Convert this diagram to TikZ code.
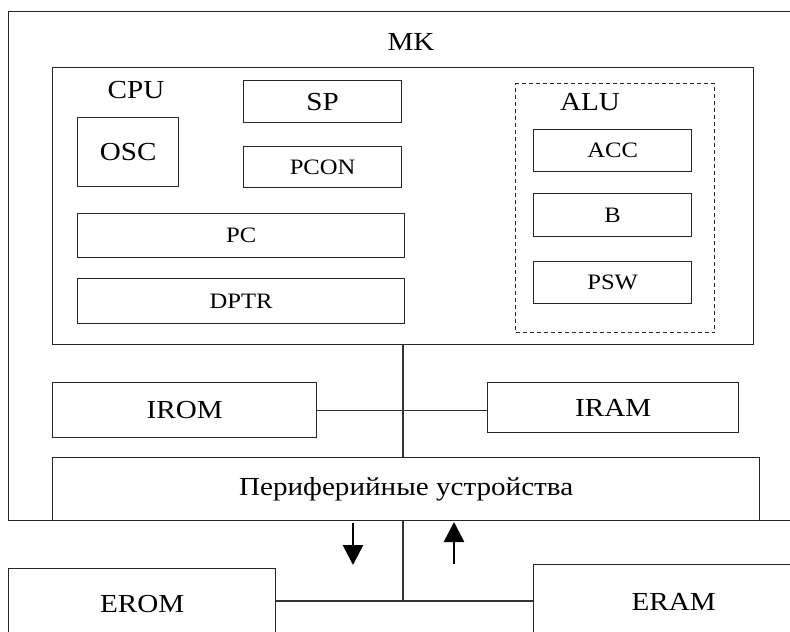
\documentclass[tikz,border=0pt]{standalone}
\usepackage{fontspec}
\setmainfont{Liberation Serif}[FakeStretch=1.12]
\usetikzlibrary{arrows.meta}
\tikzset{
  blk/.style={draw=black!85, line width=1.3pt, fill=white, inner sep=0pt, anchor=north west},
  dashblk/.style={draw=black!85, line width=1.2pt, dash pattern=on 4pt off 3pt, inner sep=0pt, anchor=north west},
  big/.style={font=\fontsize{26}{28}\selectfont},
  small/.style={font=\fontsize{22}{25}\selectfont},
  wire/.style={draw=black!80, line width=1.2pt},
  flow/.style={line width=2.6pt, -{Triangle[length=20pt,width=20pt]}},
}
\begin{document}
\begin{tikzpicture}[x=1pt,y=-1pt]
\useasboundingbox (0,0) rectangle (790,632);
\fill[white] (0,0) rectangle (790,632);
\clip (0,0) rectangle (790,632);

% microcontroller outline
\node[blk, minimum width=800pt, minimum height=509pt] (mk) at (8,11) {};
\node[big] (mklabel) at (411,42) {MK};

% processor core
\node[blk, minimum width=701pt, minimum height=277pt] (cpu) at (52,67) {};
\node[big] (cpulabel) at (136,90) {CPU};
\node[blk, big, minimum width=101pt, minimum height=69pt] (osc) at (77,117) {OSC};
\node[blk, big, minimum width=158pt, minimum height=42pt] (sp) at (243,80) {SP};
\node[blk, small, minimum width=158pt, minimum height=41pt] (pcon) at (243,146) {PCON};
\node[blk, small, minimum width=327pt, minimum height=44pt] (pc) at (77,213) {PC};
\node[blk, small, minimum width=327pt, minimum height=45pt] (dptr) at (77,278) {DPTR};

% arithmetic unit
\node[dashblk, minimum width=199pt, minimum height=249pt] (alu) at (515,83) {};
\node[big] (alulabel) at (590,102) {ALU};
\node[blk, small, minimum width=158pt, minimum height=42pt] (acc) at (533,129) {ACC};
\node[blk, small, minimum width=158pt, minimum height=43pt] (b) at (533,193) {B};
\node[blk, small, minimum width=158pt, minimum height=42pt] (psw) at (533,261) {PSW};

% on-chip memories and peripherals
\node[blk, big, minimum width=264pt, minimum height=55pt] (irom) at (52,382) {IROM};
\node[blk, big, minimum width=251pt, minimum height=50pt] (iram) at (487,382) {IRAM};
\node[blk, big, minimum width=707pt, minimum height=63pt] (periph) at (52,457) {Периферийные устройства};

% external memories
\node[blk, big, minimum width=267pt, minimum height=70pt] (erom) at (8,568) {EROM};
\node[blk, big, minimum width=280pt, minimum height=74pt] (eram) at (533,564) {ERAM};

% internal bus
\coordinate (busin) at (403,344);
\coordinate (junction) at (403,601);
\draw[wire] (busin) -- (busin |- periph.north);
\draw[wire] (irom.east) -- (irom.east -| iram.west);
\draw[wire] (busin |- periph.south) -- (junction);
\draw[wire] (erom.east |- junction) -- (eram.west |- junction);

% data direction arrows
\coordinate (dntop) at (353,523);
\coordinate (dnbot) at (353,565);
\coordinate (uptop) at (454,522);
\coordinate (upbot) at (454,564);
\draw[flow] (dntop) -- (dnbot);
\draw[flow] (upbot) -- (uptop);
\end{tikzpicture}
\end{document}
